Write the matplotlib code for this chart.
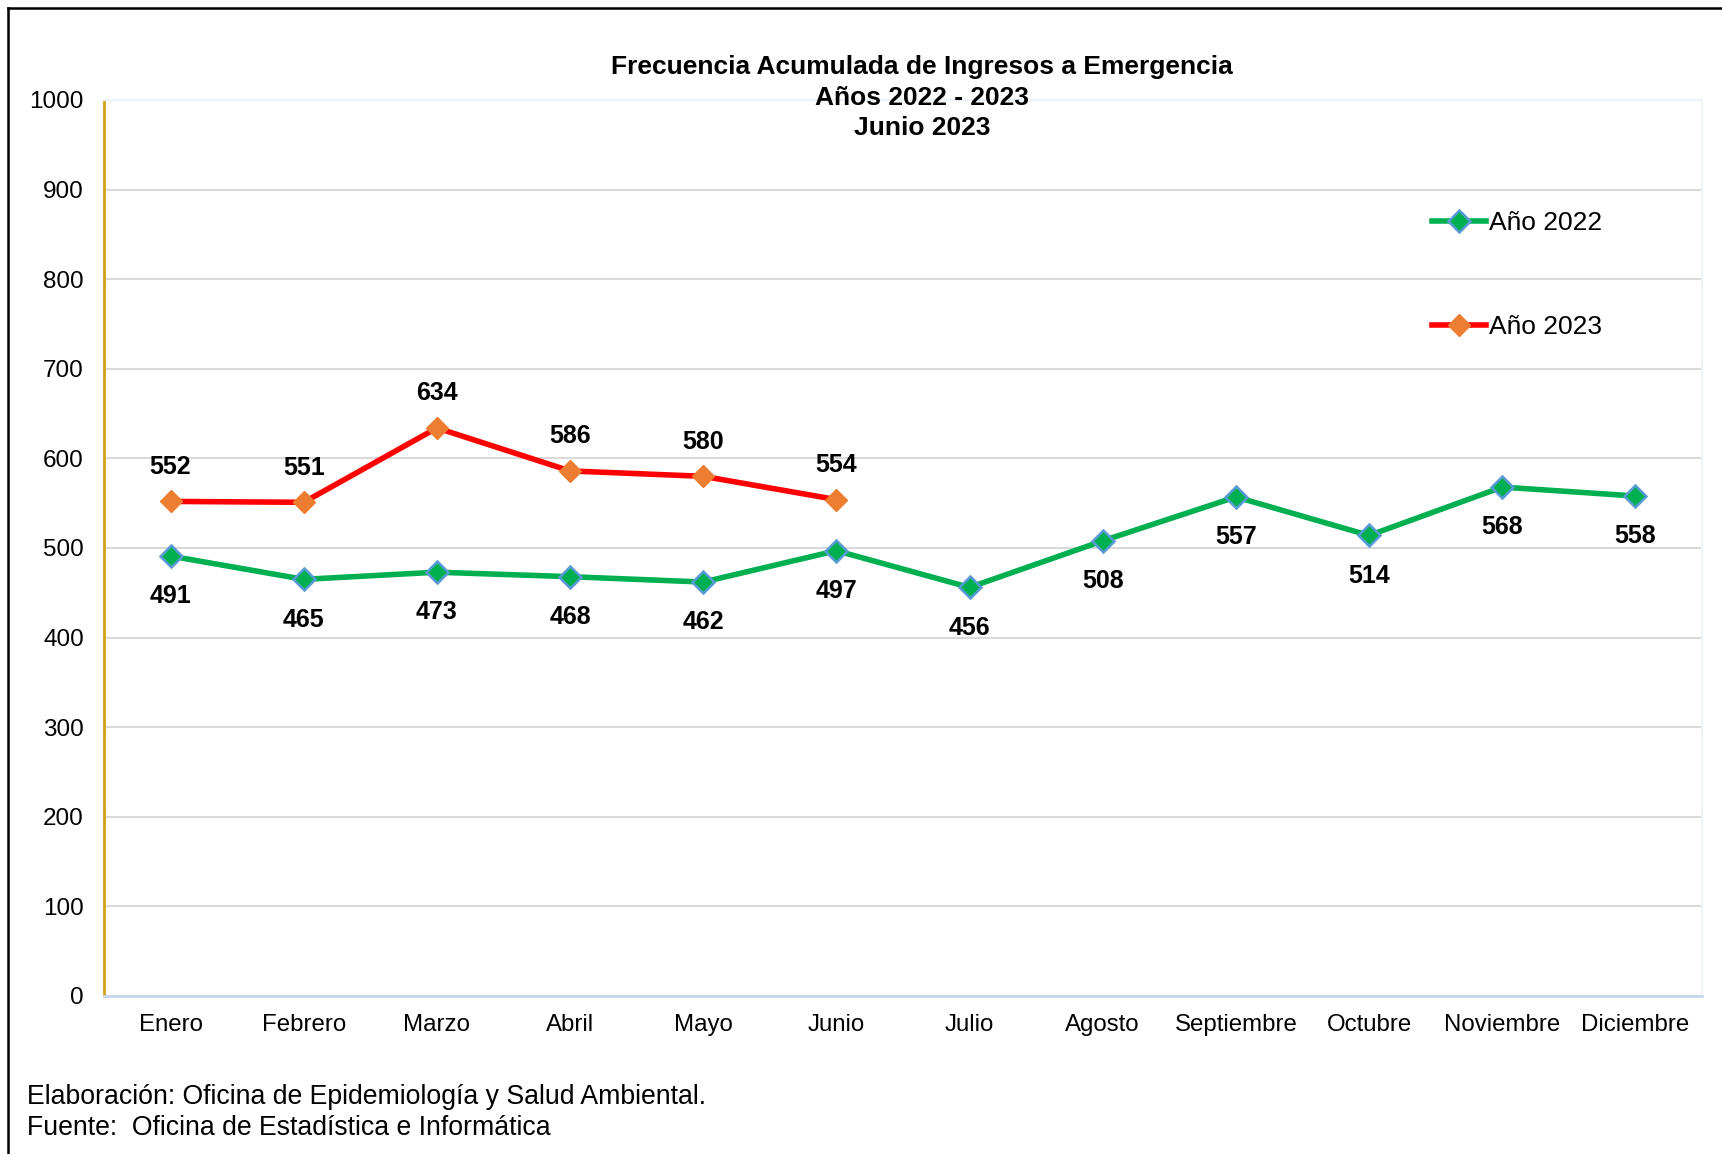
import matplotlib
matplotlib.use("Agg")
import matplotlib.pyplot as plt
from matplotlib.lines import Line2D

plt.rcParams['font.family'] = ['Liberation Sans', 'DejaVu Sans']

months = ["Enero", "Febrero", "Marzo", "Abril", "Mayo", "Junio", "Julio",
          "Agosto", "Septiembre", "Octubre", "Noviembre", "Diciembre"]
vals_2022 = [491, 465, 473, 468, 462, 497, 456, 508, 557, 514, 568, 558]
vals_2023 = [552, 551, 634, 586, 580, 554]
yticks = [0, 100, 200, 300, 400, 500, 600, 700, 800, 900, 1000]
title_lines = ["Frecuencia Acumulada de Ingresos a Emergencia", "Años 2022 - 2023", "Junio 2023"]
footer_lines = ["Elaboración: Oficina de Epidemiología y Salud Ambiental.",
                "Fuente:  Oficina de Estadística e Informática"]

W, H = 1722, 1154
fig = plt.figure(figsize=(W / 100, H / 100), dpi=100)
ax = fig.add_axes([104 / W, 1 - 996 / H, (1702 - 104) / W, (996 - 100) / H])

x22 = list(range(len(vals_2022)))
x23 = list(range(len(vals_2023)))

ax.plot(x22, vals_2022, color="#00b050", lw=4, marker="D", ms=11,
        mfc="#00b050", mec="#5b9bd5", mew=1.8, label="Año 2022", zorder=3)
ax.plot(x23, vals_2023, color="#ff0000", lw=4, marker="D", ms=11,
        mfc="#ed7d31", mec="#ed7d31", mew=1.0, label="Año 2023", zorder=3)

for xi, v in zip(x22, vals_2022):
    ax.annotate(str(v), (xi, v), xytext=(0, -29), textcoords="offset points",
                ha="center", va="center", fontsize=18, fontweight="bold")
for xi, v in zip(x23, vals_2023):
    ax.annotate(str(v), (xi, v), xytext=(0, 25), textcoords="offset points",
                ha="center", va="center", fontsize=18, fontweight="bold")

ax.set_xlim(-0.5, len(months) - 0.5)
ax.set_ylim(0, 1000)
ax.set_yticks(yticks)
ax.set_xticks(range(len(months)))
ax.set_xticklabels(months)
ax.tick_params(axis="y", length=0, pad=14.5, labelsize=17.5)
ax.tick_params(axis="x", length=0, pad=13, labelsize=17.3)
ax.grid(axis="y", color="#d9d9d9", lw=1.5, zorder=0)
ax.set_axisbelow(True)
for s in ["top", "right"]:
    ax.spines[s].set_color("#eef3fa")
    ax.spines[s].set_linewidth(1.5)
ax.spines["left"].set_color("#d4a017")
ax.spines["left"].set_linewidth(2)
ax.spines["bottom"].set_color("#c5d7ee")
ax.spines["bottom"].set_linewidth(2)

leg = ax.legend(loc="upper left", bbox_to_anchor=(1432 / W, 1 - 211 / H),
                bbox_transform=fig.transFigure, frameon=False, fontsize=19,
                handlelength=2.05, handletextpad=0.1, labelspacing=3.05,
                borderpad=0, borderaxespad=0)

ys = [67, 98, 128]
for t, y in zip(title_lines, ys):
    fig.text(922 / W, 1 - y / H, t, ha="center", va="center",
             fontsize=19, fontweight="bold")

fig.text(27 / W, 1 - 1097 / H, footer_lines[0], ha="left", va="center", fontsize=19.2)
fig.text(27 / W, 1 - 1128 / H, footer_lines[1], ha="left", va="center", fontsize=19.2)

# outer border (left and top edges visible)
fig.add_artist(Line2D([8 / W, 8 / W], [0, 1 - 8 / H], transform=fig.transFigure,
                      color="black", lw=1.8))
fig.add_artist(Line2D([8 / W, 1], [1 - 8 / H, 1 - 8 / H], transform=fig.transFigure,
                      color="black", lw=1.8))

fig.savefig("out.png", dpi=100)
